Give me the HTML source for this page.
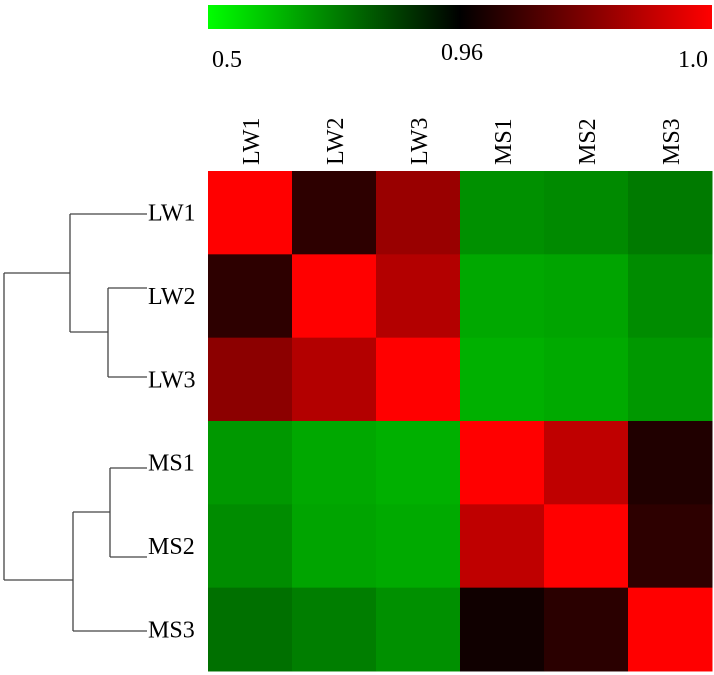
<!DOCTYPE html>
<html><head><meta charset="utf-8"><style>
body{margin:0;background:#fff;}
svg{display:block;font-family:"Liberation Serif",serif;}
</style></head><body>
<svg id="c" width="714" height="675">
<defs><linearGradient id="g" x1="0" x2="1"><stop offset="0" stop-color="#00ff00"/><stop offset="0.5" stop-color="#000"/><stop offset="1" stop-color="#ff0000"/></linearGradient></defs>
<rect x="208" y="5" width="504" height="24" fill="url(#g)"/>
<text x="212" y="67" font-size="24">0.5</text>
<text x="462" y="60" font-size="24" text-anchor="middle">0.96</text>
<text x="708" y="67" font-size="24" text-anchor="end">1.0</text>
<g id="cells"></g><g id="labels"></g>
<g stroke="#444" stroke-width="1.3" fill="none">
<path d="M70,214H147M108,288H147M108,377H147M108,288V377M70,332H108M70,214V332"/>
<path d="M110,468H147M110,557H147M73,631H147M110,468V557M73,512H110M73,512V631"/>
<path d="M4,273H70M4,580H73M4,273V580"/>
</g>
</svg>
<script>
const names=["LW1","LW2","LW3","MS1","MS2","MS3"];
const values=[
[1.0,0.967,0.984,0.700,0.711,0.740],
[0.967,1.0,0.988,0.657,0.664,0.707],
[0.982,0.988,1.0,0.643,0.653,0.686],
[0.686,0.657,0.643,1.0,0.990,0.965],
[0.707,0.664,0.653,0.990,1.0,0.967],
[0.758,0.733,0.700,0.9625,0.9666,1.0]];
const x0=208,y0=171,cw=84,ch=83.33;
function color(v){
 if(v>=0.96){const r=Math.round(Math.min(1,(v-0.96)/0.04)*255);return `rgb(${r},0,0)`;}
 const g=Math.round(Math.min(1,(0.96-v)/0.46)*255);return `rgb(0,${g},0)`;
}
const NS="http://www.w3.org/2000/svg";
const cg=document.getElementById('cells'),lg=document.getElementById('labels');
values.forEach((row,i)=>row.forEach((v,j)=>{
 const r=document.createElementNS(NS,'rect');
 r.setAttribute('x',x0+j*cw);r.setAttribute('y',y0+i*ch);
 r.setAttribute('width',cw+0.5);r.setAttribute('height',ch+0.5);
 r.setAttribute('fill',color(v));
 
 
 cg.appendChild(r);
}));
names.forEach((n,i)=>{
 const t=document.createElementNS(NS,'text');
 const cx=x0+i*cw+cw/2+9;
 t.setAttribute('transform',`translate(${cx},165) rotate(-90)`);
 t.setAttribute('font-size','24');t.textContent=n;
 
 
 lg.appendChild(t);
 const r=document.createElementNS(NS,'text');
 r.setAttribute('x',148);r.setAttribute('y',y0+i*ch+ch/2+8);
 r.setAttribute('font-size','24');r.textContent=n;
 
 
 lg.appendChild(r);
});
</script>
</body></html>
